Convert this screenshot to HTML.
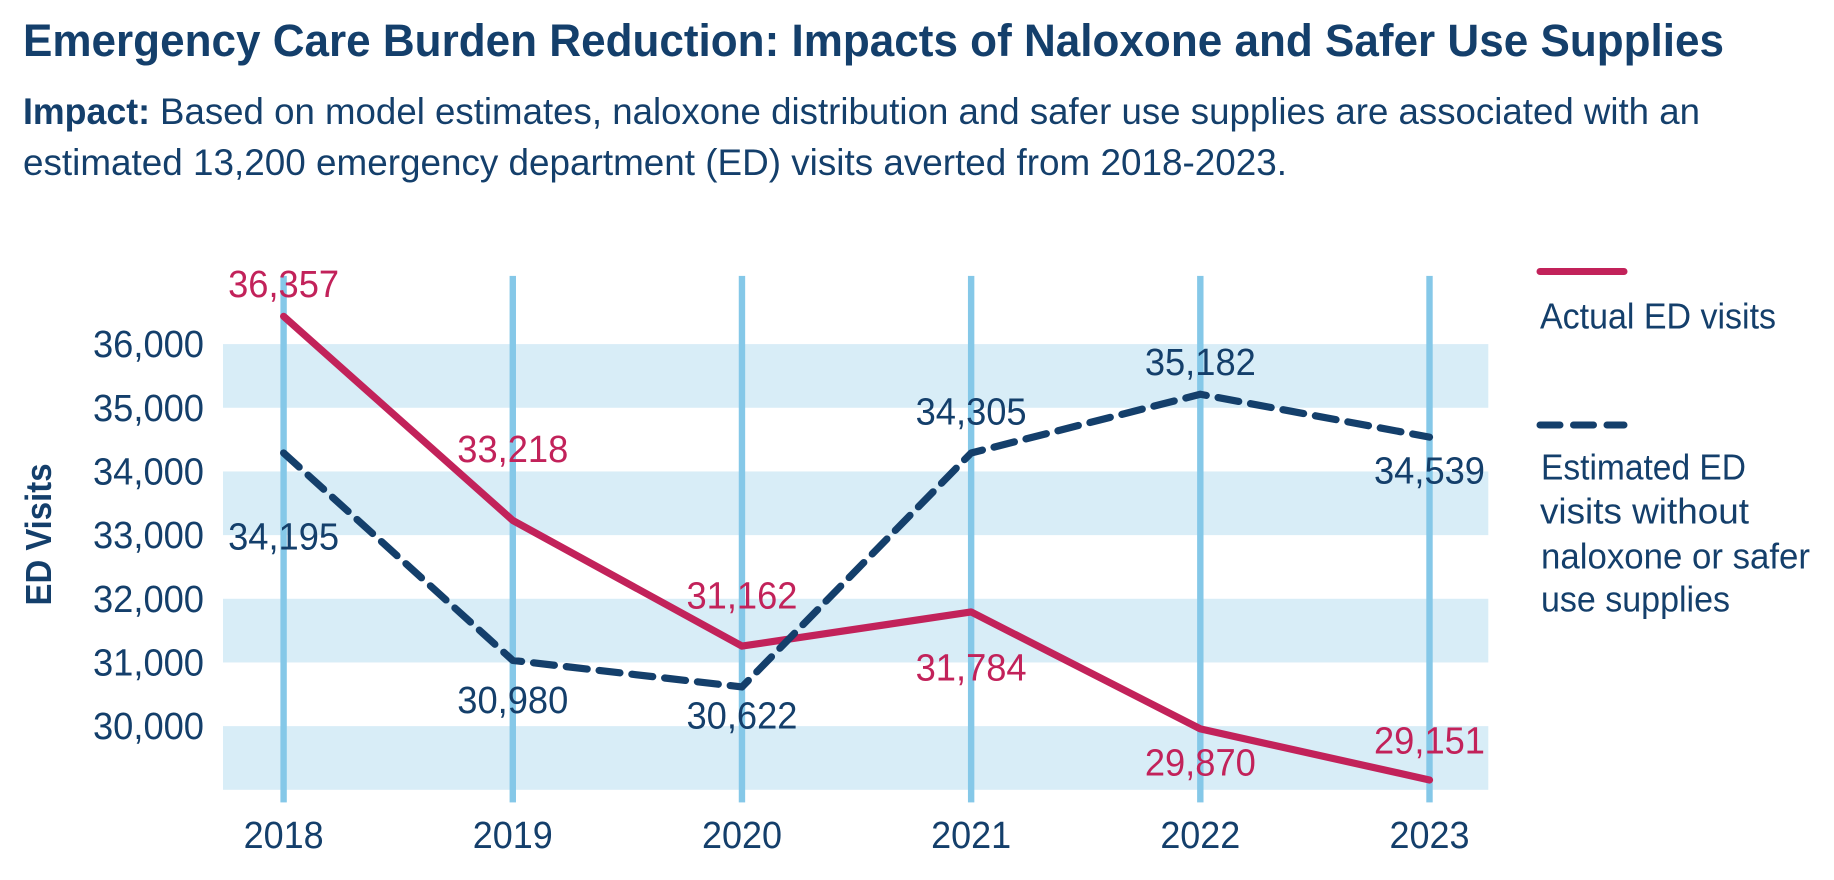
<!DOCTYPE html>
<html lang="en">
<head>
<meta charset="utf-8">
<title>Emergency Care Burden Reduction</title>
<style>
  html, body { margin: 0; padding: 0; background: #fff; width: 1834px; height: 880px; overflow: hidden; }
  svg { display: block; }
  text { font-family: "Liberation Sans", Arial, sans-serif; fill: #143f6b; }
</style>
</head>
<body>
<svg id="chart" xmlns="http://www.w3.org/2000/svg" width="1834" height="880" viewBox="0 0 1834 880">
  <rect x="0" y="0" width="1834" height="880" fill="#ffffff"/>
  <text x="23" y="56" font-size="45" font-weight="700" textLength="1701" lengthAdjust="spacingAndGlyphs">Emergency Care Burden Reduction: Impacts of Naloxone and Safer Use Supplies</text>
  <text x="23" y="124" font-size="37" font-weight="700" textLength="127" lengthAdjust="spacingAndGlyphs">Impact:</text>
  <text x="160" y="124" font-size="37" textLength="1540" lengthAdjust="spacingAndGlyphs">Based on model estimates, naloxone distribution and safer use supplies are associated with an</text>
  <text x="23" y="175" font-size="37" textLength="1264" lengthAdjust="spacingAndGlyphs">estimated 13,200 emergency department (ED) visits averted from 2018-2023.</text>

  <g id="bands"></g>
  <g id="gridlines"></g>
  <g id="y-ticks"></g>
  <g id="x-ticks"></g>
  <text transform="translate(51,534.5) rotate(-90)" text-anchor="middle" font-size="36" font-weight="700" textLength="142" lengthAdjust="spacingAndGlyphs">ED Visits</text>
  <g id="series"></g>
  <g id="value-labels"></g>

  <g>
    <line x1="1540" y1="271.5" x2="1624" y2="271.5" stroke="#c2225a" stroke-width="7" stroke-linecap="round"/>
    <text x="1540" y="328.5" font-size="36" textLength="236" lengthAdjust="spacingAndGlyphs">Actual ED visits</text>
    <line x1="1540" y1="425" x2="1624" y2="425" stroke="#143f6b" stroke-width="7" stroke-linecap="round" stroke-dasharray="20 13.5"/>
    <text x="1541" y="479.5" font-size="36" textLength="205" lengthAdjust="spacingAndGlyphs">Estimated ED</text>
    <text x="1540" y="523.5" font-size="36" textLength="209" lengthAdjust="spacingAndGlyphs">visits without</text>
    <text x="1541" y="568.5" font-size="36" textLength="269" lengthAdjust="spacingAndGlyphs">naloxone or safer</text>
    <text x="1541" y="611.5" font-size="36" textLength="189" lengthAdjust="spacingAndGlyphs">use supplies</text>
  </g>
</svg>

<script>
// ---- chart data ----
const years = ['2018', '2019', '2020', '2021', '2022', '2023'];
const actualVisits = [36436, 33231, 31257, 31793, 29957, 29154];
const estimatedVisits = [34290, 31032, 30615, 34290, 35212, 34539];
const actualPrinted = ['36,357', '33,218', '31,162', '31,784', '29,870', '29,151'];
const estimatedPrinted = ['34,195', '30,980', '30,622', '34,305', '35,182', '34,539'];
const yTickValues = [36000, 35000, 34000, 33000, 32000, 31000, 30000];
const yTickLabels = ['36,000', '35,000', '34,000', '33,000', '32,000', '31,000', '30,000'];
const bandUpperValues = [36000, 34000, 32000, 30000];
const bandSpan = 1000;

// ---- axis functions ----
function yScale(v) {
  const domainMin = 29000, domainMax = 36000, rangeBottom = 789.8, rangeTop = 344.1;
  return rangeBottom + (v - domainMin) / (domainMax - domainMin) * (rangeTop - rangeBottom);
}
function xScale(i) {
  const left = 283.6, right = 1429.5;
  return left + i * (right - left) / (years.length - 1);
}

const NS = 'http://www.w3.org/2000/svg';
function make(tag, parentId, attrs, content) {
  const el = document.createElementNS(NS, tag);
  Object.keys(attrs).forEach(function (k) { el.setAttribute(k, attrs[k]); });
  if (content !== undefined) el.textContent = content;
  document.getElementById(parentId).appendChild(el);
  return el;
}

function draw() {
  // bands
  bandUpperValues.forEach(function (v) {
    const top = yScale(v), bottom = yScale(v - bandSpan);
    const el = make('rect', 'bands', { x: 223, y: top, width: 1265.3, height: bottom - top, fill: '#d8edf7' });
    
    
  });

  // year gridlines and x tick labels
  years.forEach(function (yr, i) {
    const line = make('rect', 'gridlines', { x: xScale(i) - 3.2, y: 275.9, width: 6.4, height: 526.5, fill: '#85c8e8' });
    
    
    const tick = make('text', 'x-ticks', { x: xScale(i), y: 848, 'text-anchor': 'middle', 'font-size': 38, textLength: 80, lengthAdjust: 'spacingAndGlyphs' }, yr);
    
    
  });

  // y tick labels
  yTickValues.forEach(function (v, i) {
    const tick = make('text', 'y-ticks', { x: 204, y: yScale(v) + 13, 'text-anchor': 'end', 'font-size': 38, textLength: 111, lengthAdjust: 'spacingAndGlyphs' }, yTickLabels[i]);
    
    
  });

  // series lines
  function points(values) {
    return values.map(function (v, i) { return xScale(i) + ',' + yScale(v); }).join(' ');
  }
  const actualLine = make('polyline', 'series', {
    points: points(actualVisits), fill: 'none', stroke: '#c2225a', 'stroke-width': 7.2,
    'stroke-linecap': 'round', 'stroke-linejoin': 'round'
  });
  
  
  const estimatedLine = make('polyline', 'series', {
    points: points(estimatedVisits), fill: 'none', stroke: '#143f6b', 'stroke-width': 7.2,
    'stroke-linecap': 'round', 'stroke-linejoin': 'round', 'stroke-dasharray': '21 12'
  });
  
  

  // printed value labels: placement relative to each mark
  const actualGap = [-32, -71, -50, 56, 34, -39];
  const estimatedGap = [84, 40, 29, -41, -32, 34];
  actualVisits.forEach(function (v, i) {
    const t = make('text', 'value-labels', {
      x: xScale(i), y: yScale(v) + actualGap[i] + 12.5, 'text-anchor': 'middle', 'font-size': 38, textLength: 111, lengthAdjust: 'spacingAndGlyphs', style: 'fill:#c2225a'
    }, actualPrinted[i]);
    
    
  });
  estimatedVisits.forEach(function (v, i) {
    const t = make('text', 'value-labels', {
      x: xScale(i), y: yScale(v) + estimatedGap[i] + 12.5, 'text-anchor': 'middle', 'font-size': 38, textLength: 111, lengthAdjust: 'spacingAndGlyphs'
    }, estimatedPrinted[i]);
    
    
  });
}
draw();
</script>
</body>
</html>
